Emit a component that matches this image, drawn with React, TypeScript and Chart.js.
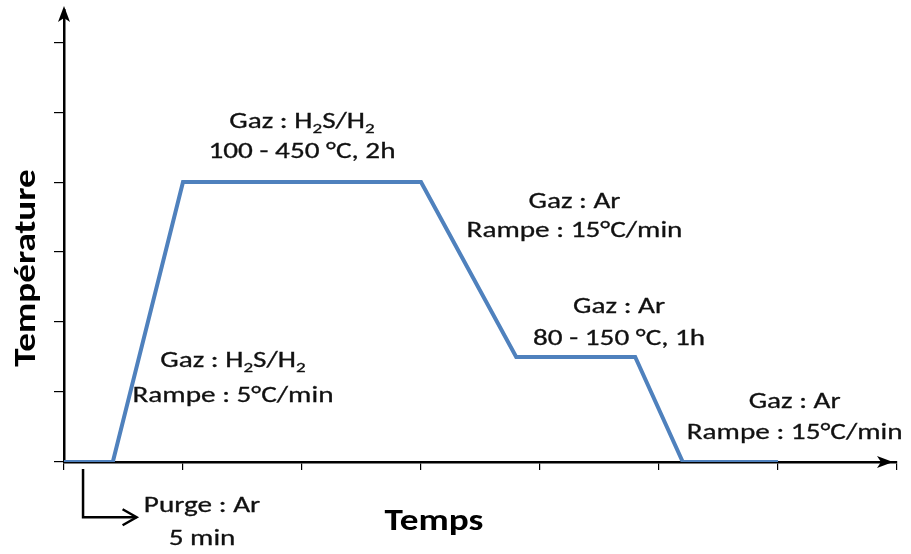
import React, { useEffect, useRef } from "react";
import { Chart, registerables } from "chart.js";

Chart.register(...registerables);

// ---- data ----
const timeSteps = [0, 0.41, 1, 3, 3.8, 4.8, 5.2, 6];
const tempLevels = [0, 0, 4, 4, 1.5, 1.5, 0, 0];
const xTicks = [0, 1, 2, 3, 4, 5, 6, 7];
const yTicks = [0, 1, 2, 3, 4, 5, 6];
const xMax = 7;
const yMax = 6.46;
const xTitle = "Temps";
const yTitle = "Température";

// annotation texts ("_2" = subscript 2), anchored in data units (center x, baseline y)
const noteLines = [
  "Gaz : H_2S/H_2", "100 - 450 °C, 2h",
  "Gaz : Ar", "Rampe : 15°C/min",
  "Gaz : Ar", "80 - 150 °C, 1h",
  "Gaz : H_2S/H_2", "Rampe : 5°C/min",
  "Gaz : Ar", "Rampe : 15°C/min",
  "Purge : Ar", "5 min",
];
const noteX = [2.0, 2.0, 4.29, 4.29, 4.665, 4.665, 1.42, 1.42, 6.14, 6.14, 1.16, 1.16];
const noteY = [4.77, 4.34, 3.63, 3.21, 2.13, 1.67, 1.36, 0.86, 0.77, 0.33, -0.71, -1.19];
const purgeArrowX = [0.16, 0.16, 0.61];
const purgeArrowY = [-0.1, -0.79, -0.79];

const FONT = "Carlito, Lato, 'Open Sans', sans-serif";
const LINE_COLOR = "#4F81BD";
const NOTE_SIZE = 23;
const NOTE_HSCALE = 1.27;
const TITLE_SIZE = 31;
const TITLE_HSCALE = 1.2;

function drawRich(ctx: CanvasRenderingContext2D, text: string, cx: number, by: number, size: number, hs: number) {
  const segs: { t: string; sub: boolean }[] = [];
  let buf = "";
  for (let i = 0; i < text.length; i++) {
    if (text[i] === "_" && i + 1 < text.length) {
      if (buf) segs.push({ t: buf, sub: false });
      buf = "";
      segs.push({ t: text[i + 1], sub: true });
      i++;
    } else buf += text[i];
  }
  if (buf) segs.push({ t: buf, sub: false });
  const subSize = Math.round(size * 0.66);
  let total = 0;
  const widths = segs.map((s) => {
    ctx.font = `${s.sub ? subSize : size}px ${FONT}`;
    const w = ctx.measureText(s.t).width;
    total += w;
    return w;
  });
  ctx.save();
  ctx.translate(cx, by);
  ctx.scale(hs, 1);
  let x = -total / 2;
  ctx.textAlign = "left";
  ctx.textBaseline = "alphabetic";
  ctx.lineWidth = 0.3;
  segs.forEach((s, i) => {
    ctx.font = `${s.sub ? subSize : size}px ${FONT}`;
    const yy = s.sub ? size * 0.22 : 0;
    ctx.fillText(s.t, x, yy);
    ctx.strokeText(s.t, x, yy);
    x += widths[i];
  });
  ctx.restore();
}

const overlayPlugin = {
  id: "overlay",
  afterDraw(chart: any) {
    const ctx: CanvasRenderingContext2D = chart.ctx;
    const xs = chart.scales.x;
    const ys = chart.scales.y;
    const x0 = xs.getPixelForValue(0);
    const y0 = ys.getPixelForValue(0);
    const top = chart.chartArea.top;
    const xEnd = xs.getPixelForValue(xMax) - 4;
    ctx.save();
    ctx.fillStyle = "#000";
    ctx.strokeStyle = "#000";
    // y-axis arrow
    ctx.beginPath();
    ctx.moveTo(x0, top - 4);
    ctx.lineTo(x0 - 6, top + 12);
    ctx.lineTo(x0, top + 8);
    ctx.lineTo(x0 + 6, top + 12);
    ctx.closePath();
    ctx.fill();
    // x-axis arrow
    ctx.beginPath();
    ctx.moveTo(xEnd, y0);
    ctx.lineTo(xEnd - 16, y0 - 6);
    ctx.lineTo(xEnd - 12, y0);
    ctx.lineTo(xEnd - 16, y0 + 6);
    ctx.closePath();
    ctx.fill();
    // purge arrow
    const px = purgeArrowX.map((v) => xs.getPixelForValue(v));
    const py = purgeArrowY.map((v) => ys.getPixelForValue(v));
    ctx.lineWidth = 2.5;
    ctx.lineJoin = "miter";
    ctx.beginPath();
    ctx.moveTo(px[0], py[0]);
    ctx.lineTo(px[1], py[1]);
    ctx.lineTo(px[2], py[2]);
    ctx.stroke();
    ctx.beginPath();
    ctx.moveTo(px[2] - 14, py[2] - 8);
    ctx.lineTo(px[2], py[2]);
    ctx.lineTo(px[2] - 14, py[2] + 8);
    ctx.stroke();
    // notes
    ctx.fillStyle = "#111";
    ctx.strokeStyle = "#111";
    noteLines.forEach((t, i) => {
      drawRich(ctx, t, xs.getPixelForValue(noteX[i]), ys.getPixelForValue(noteY[i]), NOTE_SIZE, NOTE_HSCALE);
    });
    // titles
    ctx.fillStyle = "#000";
    ctx.font = `bold ${TITLE_SIZE}px ${FONT}`;
    ctx.textAlign = "center";
    ctx.textBaseline = "alphabetic";
    ctx.save();
    ctx.translate(434, 530);
    ctx.scale(TITLE_HSCALE, 1);
    ctx.fillText(xTitle, 0, 0);
    ctx.restore();
    ctx.save();
    ctx.translate(35, 268);
    ctx.rotate(-Math.PI / 2);
    ctx.scale(TITLE_HSCALE, 1);
    ctx.fillText(yTitle, 0, 0);
    ctx.restore();
    ctx.restore();
  },
};

export default function App() {
  const ref = useRef<HTMLCanvasElement>(null);
  useEffect(() => {
    document.body.style.margin = "0";
    const chart = new Chart(ref.current!, {
      type: "line",
      data: {
        datasets: [
          {
            data: timeSteps.map((t, i) => ({ x: t, y: tempLevels[i] })),
            borderColor: LINE_COLOR,
            borderWidth: 4,
            pointRadius: 0,
            tension: 0,
            borderJoinStyle: "miter",
          },
        ],
      },
      options: {
        animation: false,
        responsive: false,
        devicePixelRatio: 1,
        layout: { padding: { left: 54, right: 14, top: 10, bottom: 84 } },
        plugins: { legend: { display: false }, tooltip: { enabled: false } },
        scales: {
          x: {
            type: "linear",
            min: 0,
            max: xMax,
            afterBuildTicks: (s: any) => {
              s.ticks = xTicks.map((v) => ({ value: v }));
            },
            afterFit: (s: any) => {
              s.height = 8;
            },
            ticks: { display: false },
            grid: { drawOnChartArea: false, drawTicks: true, tickLength: 8, color: "#000", lineWidth: 1.2 },
            border: { display: true, color: "#000", width: 2.5 },
          },
          y: {
            type: "linear",
            min: 0,
            max: yMax,
            afterBuildTicks: (s: any) => {
              s.ticks = yTicks.map((v) => ({ value: v }));
            },
            afterFit: (s: any) => {
              s.width = 10;
            },
            ticks: { display: false },
            grid: { drawOnChartArea: false, drawTicks: true, tickLength: 10, color: "#000", lineWidth: 1.2 },
            border: { display: true, color: "#000", width: 2.5 },
          },
        },
      } as any,
      plugins: [overlayPlugin],
    });
    return () => chart.destroy();
  }, []);
  return (
    <div style={{ position: "absolute", left: 0, top: 0, width: 911, height: 554, background: "#fff" }}>
      <canvas ref={ref} width={911} height={554} />
    </div>
  );
}
